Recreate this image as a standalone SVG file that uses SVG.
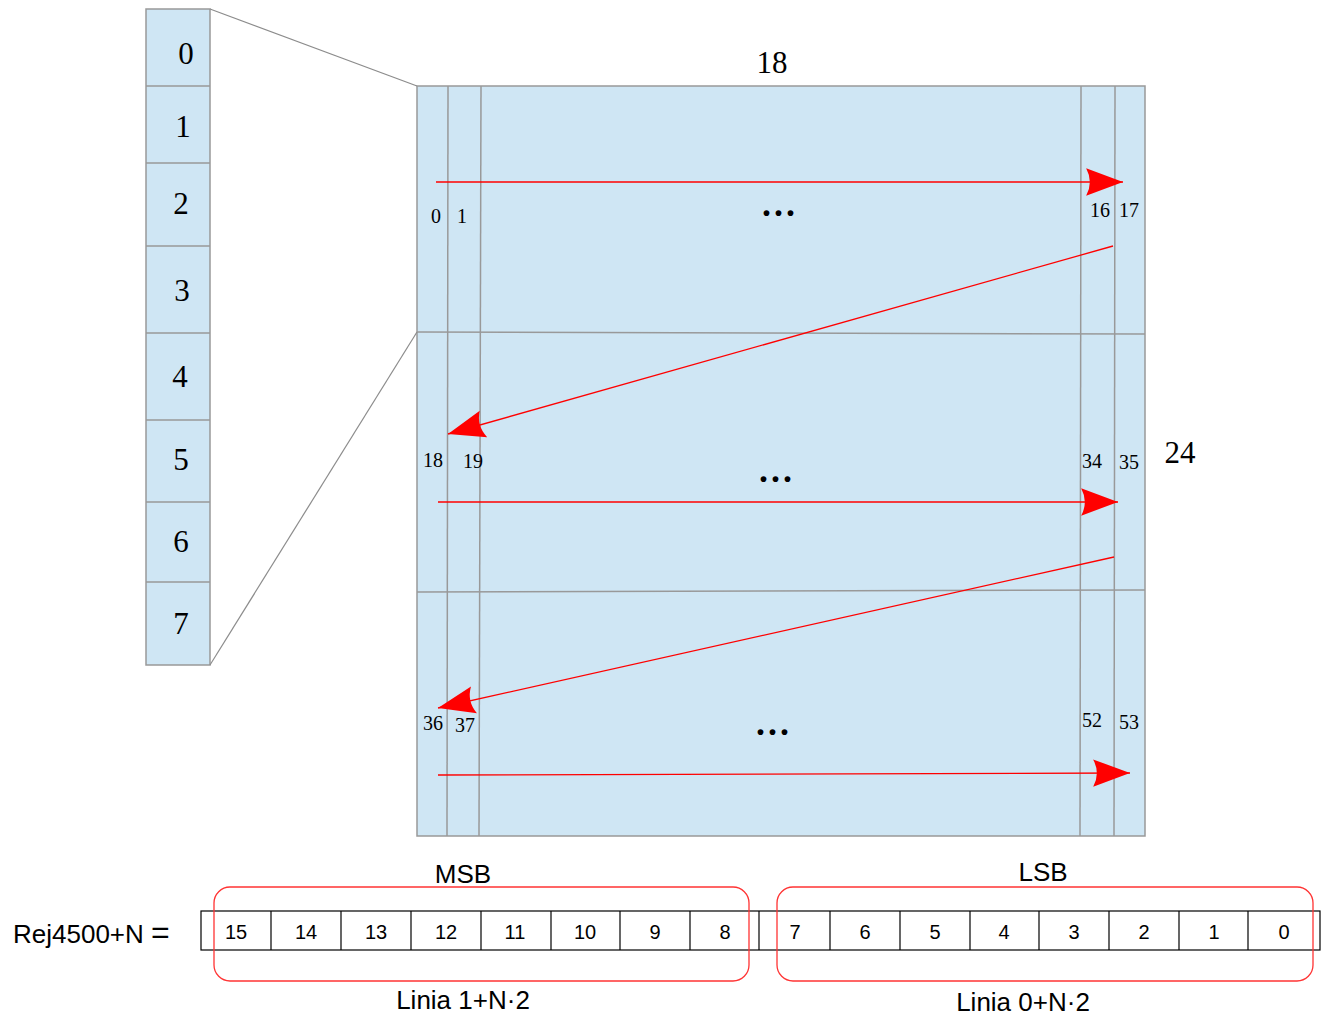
<svg xmlns="http://www.w3.org/2000/svg" width="1325" height="1018" viewBox="0 0 1325 1018">
<style>
.cell{fill:#cfe6f4;stroke:#999;stroke-width:1.5}
.gl{stroke:#999;stroke-width:1.5;fill:none}
.cl{stroke:#8c8c8c;stroke-width:1.2;fill:none}
.big{font-family:"Liberation Serif",serif;font-size:31px;fill:#000;text-anchor:middle}
.sm{font-family:"Liberation Serif",serif;font-size:20px;fill:#000;text-anchor:middle}
.dots{font-family:"Liberation Serif",serif;font-size:36px;font-weight:bold;fill:#000;text-anchor:middle;letter-spacing:3px}
.reg{fill:#fff;stroke:#000;stroke-width:1.2}
.rd{font-family:"Liberation Sans",sans-serif;font-size:20px;fill:#000;text-anchor:middle}
.lb{font-family:"Liberation Sans",sans-serif;font-size:26px;fill:#000;text-anchor:middle}
.grp{fill:none;stroke:#ff3333;stroke-width:1.3}
.arr{stroke:#ff0000;stroke-width:1.3;fill:none;marker-end:url(#ah)}
</style>
<defs>
<marker id="ah" markerUnits="userSpaceOnUse" markerWidth="40" markerHeight="30" viewBox="-36 -14 38 28" refX="0" refY="0" orient="auto">
<path d="M0,0 L-35,-13 Q-28,0 -35,13 Z" fill="#ff0000"/>
</marker>
</defs>
<g id="column">
<rect class="cell" x="146" y="9" width="64" height="656"/>
<line class="gl" x1="146" y1="86" x2="210" y2="86"/>
<line class="gl" x1="146" y1="163" x2="210" y2="163"/>
<line class="gl" x1="146" y1="246" x2="210" y2="246"/>
<line class="gl" x1="146" y1="333" x2="210" y2="333"/>
<line class="gl" x1="146" y1="420" x2="210" y2="420"/>
<line class="gl" x1="146" y1="502" x2="210" y2="502"/>
<line class="gl" x1="146" y1="582" x2="210" y2="582"/>
<text class="big" x="186" y="64">0</text>
<text class="big" x="183" y="137">1</text>
<text class="big" x="181" y="214">2</text>
<text class="big" x="182" y="301">3</text>
<text class="big" x="180" y="387">4</text>
<text class="big" x="181" y="470">5</text>
<text class="big" x="181" y="552">6</text>
<text class="big" x="181" y="634">7</text>
</g>
<g id="grid">
<rect class="cell" x="417" y="86" width="728" height="750"/>
<line class="gl" x1="448" y1="86" x2="447" y2="836"/>
<line class="gl" x1="481" y1="86" x2="479" y2="836"/>
<line class="gl" x1="1081" y1="86" x2="1080" y2="836"/>
<line class="gl" x1="1115" y1="86" x2="1114" y2="836"/>
<line class="gl" x1="417" y1="332" x2="1145" y2="334"/>
<line class="gl" x1="417" y1="592" x2="1145" y2="590"/>
<text class="big" x="772" y="73">18</text>
<text class="big" x="1180" y="463">24</text>
<text class="sm" x="436" y="223">0</text>
<text class="sm" x="462" y="223">1</text>
<text class="sm" x="1100" y="217">16</text>
<text class="sm" x="1129" y="217">17</text>
<text class="sm" x="433" y="467">18</text>
<text class="sm" x="473" y="468">19</text>
<text class="sm" x="1092" y="468">34</text>
<text class="sm" x="1129" y="469">35</text>
<text class="sm" x="433" y="730">36</text>
<text class="sm" x="465" y="732">37</text>
<text class="sm" x="1092" y="727">52</text>
<text class="sm" x="1129" y="729">53</text>
<text class="dots" x="780" y="216">...</text>
<text class="dots" x="777" y="482">...</text>
<text class="dots" x="774" y="735">...</text>
</g>
<g id="connectors">
<line class="cl" x1="210" y1="9" x2="417" y2="86"/>
<line class="cl" x1="210" y1="665" x2="417" y2="332"/>
<line class="arr" x1="436" y1="182" x2="1123" y2="182"/>
<line class="arr" x1="1113" y1="246" x2="448" y2="434"/>
<line class="arr" x1="438" y1="502" x2="1118" y2="502"/>
<line class="arr" x1="1114" y1="557" x2="438" y2="708"/>
<line class="arr" x1="438" y1="775" x2="1130" y2="773"/>
</g>
<g id="register">
<text x="13" y="943" font-family="Liberation Sans, sans-serif" font-size="26" fill="#000">Rej4500+N <tspan x="151" font-size="32">=</tspan></text>
<rect class="reg" x="201" y="911" width="1119" height="39"/>
<g stroke="#000" stroke-width="1.2">
<line x1="271" y1="911" x2="271" y2="950"/>
<line x1="341" y1="911" x2="341" y2="950"/>
<line x1="411" y1="911" x2="411" y2="950"/>
<line x1="481" y1="911" x2="481" y2="950"/>
<line x1="551" y1="911" x2="551" y2="950"/>
<line x1="620" y1="911" x2="620" y2="950"/>
<line x1="690" y1="911" x2="690" y2="950"/>
<line x1="759" y1="911" x2="759" y2="950"/>
<line x1="830" y1="911" x2="830" y2="950"/>
<line x1="900" y1="911" x2="900" y2="950"/>
<line x1="970" y1="911" x2="970" y2="950"/>
<line x1="1039" y1="911" x2="1039" y2="950"/>
<line x1="1109" y1="911" x2="1109" y2="950"/>
<line x1="1179" y1="911" x2="1179" y2="950"/>
<line x1="1248" y1="911" x2="1248" y2="950"/>
</g>
<text class="rd" x="236" y="939">15</text>
<text class="rd" x="306" y="939">14</text>
<text class="rd" x="376" y="939">13</text>
<text class="rd" x="446" y="939">12</text>
<text class="rd" x="515" y="939">11</text>
<text class="rd" x="585" y="939">10</text>
<text class="rd" x="655" y="939">9</text>
<text class="rd" x="725" y="939">8</text>
<text class="rd" x="795" y="939">7</text>
<text class="rd" x="865" y="939">6</text>
<text class="rd" x="935" y="939">5</text>
<text class="rd" x="1004" y="939">4</text>
<text class="rd" x="1074" y="939">3</text>
<text class="rd" x="1144" y="939">2</text>
<text class="rd" x="1214" y="939">1</text>
<text class="rd" x="1284" y="939">0</text>
</g>
<g id="msb">
<rect class="grp" x="214" y="887" width="535" height="94" rx="16"/>
<text class="lb" x="463" y="1009">Linia 1+N·2</text>
<text class="lb" x="463" y="883">MSB</text>
</g>
<g id="lsb">
<rect class="grp" x="777" y="887" width="536" height="94" rx="16"/>
<text class="lb" x="1043" y="881">LSB</text>
<text class="lb" x="1023" y="1011">Linia 0+N·2</text>
</g>
</svg>
